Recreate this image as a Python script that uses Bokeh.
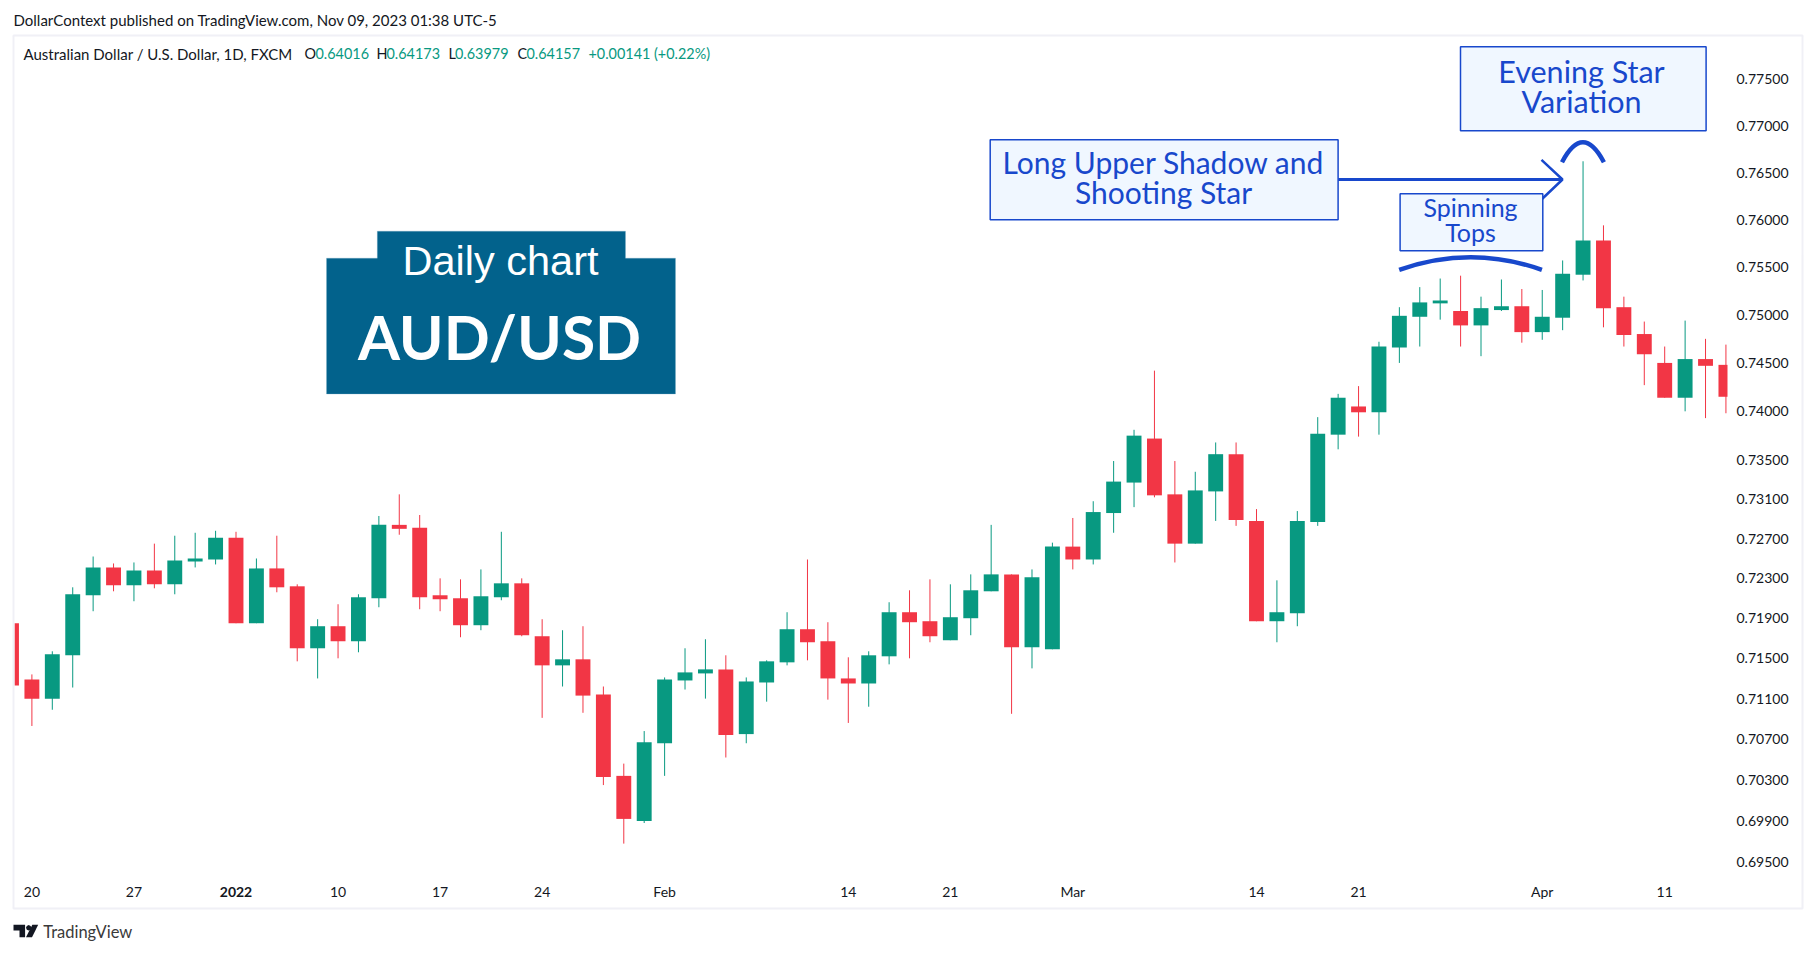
from bokeh.embed import file_html
from bokeh.resources import INLINE
from bokeh.plotting import figure
from bokeh.models import (Range1d, FixedTicker, PrintfTickFormatter, Label,
                          BoxAnnotation, PolyAnnotation)
import math

opens = [.7185,.7129,.7110,.7153,.7213,.7241,.7223,.7238,.7224,.7247,
         .7249,.7271,.7185,.7240,.7222,.7160,.7182,.7167,.7210,.7284,
         .7281,.7213,.7210,.7183,.7211,.7225,.7172,.7143,.7149,.7114,
         .7034,.6990,.7066,.7128,.7135,.7139,.7075,.7126,.7146,.7179,
         .7167,.7130,.7125,.7152,.7196,.7187,.7168,.7190,.7217,.7234,
         .7161,.7159,.7262,.7249,.7296,.7327,.7372,.7315,.7265,.7318,
         .7356,.7288,.7187,.7195,.7287,.7376,.7405,.7399,.7466,.7498,
         .7512,.7504,.7489,.7505,.7509,.7482,.7497,.7542,.7578,.7508,
         .7480,.7450,.7414,.7454,.7448]
closes = [.7123,.7110,.7154,.7214,.7241,.7223,.7238,.7224,.7248,.7250,
          .7271,.7185,.7240,.7221,.7160,.7182,.7167,.7211,.7284,.7280,
          .7211,.7209,.7183,.7212,.7225,.7173,.7143,.7149,.7113,.7033,
          .6992,.7067,.7129,.7136,.7139,.7074,.7127,.7147,.7179,.7166,
          .7130,.7125,.7153,.7196,.7186,.7172,.7191,.7218,.7234,.7161,
          .7231,.7262,.7249,.7297,.7328,.7375,.7314,.7265,.7319,.7356,
          .7289,.7187,.7196,.7288,.7377,.7414,.7399,.7467,.7499,.7513,
          .7515,.7489,.7507,.7509,.7482,.7498,.7543,.7578,.7507,.7479,
          .7459,.7414,.7454,.7447,.7415]
highs = [.7185,.7134,.7157,.7221,.7252,.7245,.7246,.7265,.7273,.7276,
         .7278,.7277,.7250,.7273,.7224,.7189,.7204,.7214,.7293,.7315,
         .7294,.7230,.7229,.7239,.7277,.7230,.7189,.7178,.7182,.7122,
         .7046,.7078,.7131,.7160,.7169,.7153,.7131,.7148,.7196,.7249,
         .7186,.7151,.7157,.7206,.7218,.7229,.7224,.7234,.7284,.7234,
         .7239,.7266,.7291,.7308,.7349,.7381,.7442,.7349,.7338,.7368,
         .7368,.7300,.7228,.7298,.7394,.7418,.7426,.7472,.7508,.7529,
         .7538,.7541,.7519,.7537,.7527,.7526,.7557,.7662,.7594,.7519,
         .7493,.7467,.7494,.7475,.7469]
lows = [.7123,.7083,.7099,.7121,.7197,.7217,.7207,.7220,.7214,.7241,
        .7244,.7185,.7185,.7216,.7147,.7130,.7150,.7156,.7201,.7274,
        .7199,.7197,.7171,.7178,.7208,.7172,.7091,.7122,.7096,.7025,
        .6968,.6988,.7034,.7119,.7110,.7052,.7066,.7107,.7143,.7148,
        .7109,.7086,.7102,.7144,.7150,.7166,.7168,.7173,.7217,.7095,
        .7140,.7159,.7239,.7244,.7276,.7302,.7312,.7246,.7265,.7288,
        .7283,.7187,.7166,.7182,.7283,.7361,.7374,.7376,.7450,.7467,
        .7495,.7467,.7457,.7504,.7471,.7474,.7484,.7536,.7487,.7467,
        .7427,.7414,.7400,.7393,.7398]

price_ticks = [.775,.77,.765,.76,.755,.75,.745,.74,.735,.731,.727,.723,.719,.715,
               .711,.707,.703,.699,.695]
date_index = [1,6,16,21,26,32,41,46,52,61,66,75,81]
date_labels = ["20","27","10","17","24","Feb","14","21","Mar","14","21","Apr","11"]
year_index = 11
year_label = "2022"

GREEN = "#089981"
RED = "#F23645"
BLUE = "#1848CC"
BOXFILL = "#F0F7FF"
FRAME = "#F0F0F6"
TEAL = "#02628C"
INK = "#131722"
FONT = "Lato"

W, H = 1810, 945
L_, R_, T_, B_ = 14, 1727, 36, 878   # pane edges in page pixels
x_per_candle = 20.41
x_first = 31.4                       # page x of candle index 1
def xd(px): return 1 + (px - x_first) / x_per_candle
def yd(py): return .775 * math.exp(-(py - 78.7) / 7186.8)

p = figure(width=W, height=H, output_backend="svg", toolbar_location=None,
           y_axis_type="log", y_axis_location="right",
           x_range=Range1d(xd(0), xd(W)), y_range=Range1d(yd(H), yd(0)),
           min_border=0, tools="")
p.grid.visible = False
p.outline_line_color = None
p.background_fill_color = "white"
p.border_fill_color = "white"

ya = p.yaxis[0]
ya.fixed_location = xd(R_)
ya.ticker = FixedTicker(ticks=price_ticks)
ya.formatter = PrintfTickFormatter(format="%.5f")
ya.axis_line_color = None
ya.major_tick_line_color = None
ya.minor_tick_line_color = None
ya.major_tick_out = 0
ya.major_label_standoff = 9
ya.major_label_text_font = FONT
ya.major_label_text_font_size = "14px"
ya.major_label_text_color = INK

xa = p.xaxis[0]
xa.fixed_location = yd(B_)
xa.ticker = FixedTicker(ticks=date_index)
xa.major_label_overrides = dict(zip(date_index, date_labels))
xa.axis_line_color = None
xa.major_tick_line_color = None
xa.minor_tick_line_color = None
xa.major_tick_out = 0
xa.major_label_standoff = 4
xa.major_label_text_font = FONT
xa.major_label_text_font_size = "14px"
xa.major_label_text_color = INK

idx = list(range(len(opens)))
colors = [GREEN if c >= o else RED for o, c in zip(opens, closes)]
p.segment(idx, lows, idx, highs, line_color=colors, line_width=1)
p.vbar(x=idx, bottom=[min(o, c) for o, c in zip(opens, closes)],
       top=[max(o, c) for o, c in zip(opens, closes)], width=0.73,
       fill_color=colors, line_color=None)

# the pane cuts the first and last candle at its edges
p.quad(left=[xd(0), xd(R_)], right=[xd(L_), xd(R_ + 10)], top=[yd(T_), yd(T_)], bottom=[yd(B_), yd(B_)],
       fill_color="white", line_color=None)

def box(l, t, r, b, fill, line, lw):
    p.add_layout(BoxAnnotation(left=l, right=r, top=t, bottom=b,
                 left_units="canvas", right_units="canvas", top_units="canvas", bottom_units="canvas",
                 fill_color=fill, fill_alpha=1 if fill else 0, line_color=line, line_width=lw,
                 line_alpha=1, level="annotation", editable=False))

def text(s, x, y, size, color=INK, align="left", font=FONT, style="normal"):
    p.add_layout(Label(x=x, y=y, x_units="canvas", y_units="canvas", text=s,
                       text_font=font, text_font_size=f"{size}px", text_color=color,
                       text_align=align, text_baseline="middle", text_font_style=style,
                       level="annotation"))

def shape(xs, ys, fill, line=None):
    p.add_layout(PolyAnnotation(xs=xs, ys=ys, xs_units="canvas", ys_units="canvas",
                                fill_color=fill, fill_alpha=1, line_color=line, line_width=1,
                                level="annotation", editable=False))

# outer chart frame
box(13, 35, 1802, 908, None, FRAME, 2)

# header and legend
text("DollarContext published on TradingView.com, Nov 09, 2023 01:38 UTC-5", 13, 19.5, 15)
text("Australian Dollar / U.S. Dollar, 1D, FXCM", 23, 53, 15)
for s, x, c in [("O", 304, INK), ("0.64016", 315, GREEN), ("H", 376, INK), ("0.64173", 386, GREEN),
                ("L", 448, INK), ("0.63979", 454.5, GREEN), ("C", 517, INK), ("0.64157", 526, GREEN),
                ("+0.00141 (+0.22%)", 588, GREEN)]:
    text(s, x, 53, 14.4, c)

# year label on the time axis
p.add_layout(Label(x=year_index, y=891, y_units="canvas", text=year_label, text_font=FONT,
                   text_font_size="14px", text_font_style="bold", text_color=INK,
                   text_align="center", text_baseline="middle"))

# badge
bx = [376.8, 625, 625, 675, 675, 326, 326, 376.8]
by = [230.7, 230.7, 257.7, 257.7, 393.5, 393.5, 257.7, 257.7]
shape(bx, by, TEAL, "#7FB0C8")
text("Daily chart", 500, 260, 41.5, "white", "center", "Liberation Sans")
text("AUD/USD", 499, 336, 60.5, "white", "center", "Lato", "bold")

# callouts
box(1460, 46.3, 1705.6, 130.3, BOXFILL, BLUE, 1.5)
text("Evening Star", 1581, 70.5, 30.5, BLUE, "center")
text("Variation", 1581, 100.5, 30.5, BLUE, "center")
box(989.7, 139.3, 1337.6, 219.3, BOXFILL, BLUE, 1.5)
text("Long Upper Shadow and", 1163, 161.5, 30, BLUE, "center")
text("Shooting Star", 1163, 191, 30, BLUE, "center")
box(1399.6, 193.3, 1542.3, 250.3, BOXFILL, BLUE, 1.5)
text("Spinning", 1470, 206, 25, BLUE, "center")
text("Tops", 1470, 231.5, 25, BLUE, "center")

# arrow and arcs
p.line([xd(1337.6), xd(1562)], [yd(179), yd(179)], line_color=BLUE, line_width=3)
p.line([xd(1541), xd(1562), xd(1541)], [yd(159.3), yd(179), yd(199)], line_color=BLUE, line_width=2.5)
p.quadratic(x0=[xd(1561.5)], y0=[yd(161.7)], x1=[xd(1603.4)], y1=[yd(161.7)], cx=[xd(1582.4)], cy=[yd(121.7)],
            line_color=BLUE, line_width=4.5)
p.quadratic(x0=[xd(1398.7)], y0=[yd(269.3)], x1=[xd(1541.4)], y1=[yd(269.3)], cx=[xd(1470.3)], cy=[yd(244.1)],
            line_color=BLUE, line_width=4.5)

# TradingView footer
LOGO = "#131722"
shape([13, 24.6, 24.6, 19, 19, 13], [924.3, 924.3, 936.7, 936.7, 930, 930], LOGO)
shape([31.8, 37.7, 31.5, 25.5], [924.3, 924.3, 936.7, 936.7], LOGO)
shape([28.2, 30.1, 30.9, 30.1, 28.2, 26.3, 25.5, 26.3], [924.6, 925.4, 927.3, 929.2, 930, 929.2, 927.3, 925.4], LOGO)
text("TradingView", 42.7, 931, 16.5, "#3A3A3A")

open("out.html", "w").write(file_html(p, INLINE))
